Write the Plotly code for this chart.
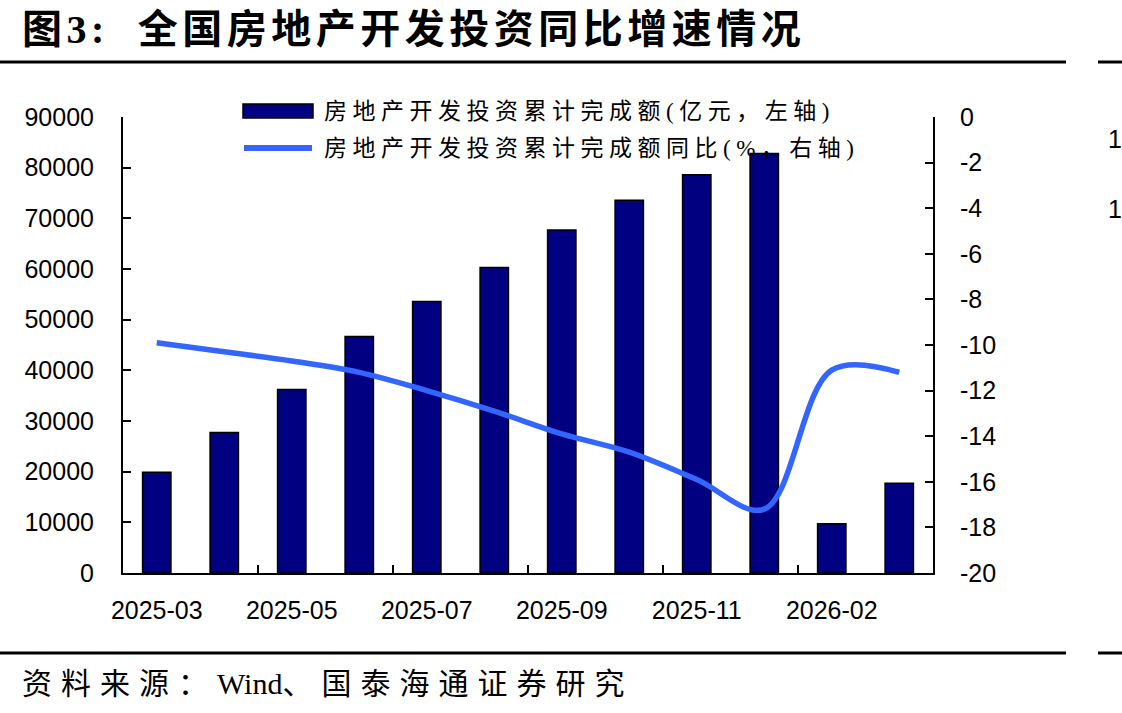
import plotly.graph_objects as go

categories = ["2025-03", "2025-04", "2025-05", "2025-06", "2025-07", "2025-08",
              "2025-09", "2025-10", "2025-11", "2025-12", "2026-02", "2026-03"]
invest = [19904, 27730, 36234, 46658, 53580, 60309, 67706, 73563, 78591, 82788, 9700, 17700]
yoy = [-9.9, -10.3, -10.7, -11.2, -12.0, -12.9, -13.9, -14.7, -15.9, -17.2, -11.1, -11.2]

x_tick_labels = categories[::2]
left_tickvals = list(range(0, 90001, 10000))
right_tickvals = list(range(-20, 1, 2))
right_ticktext = ["-20", "-18", "-16", "-14", "-12", "-10", "-8", "-6", "-4", "-2", "0"]
boundary_ticks = [1.5, 3.5, 5.5, 7.5, 9.5]

name_bar = "房地产开发投资累计完成额(亿元，左轴)"
name_line = "房地产开发投资累计完成额同比(%，右轴)"
title_text = "图3:  全国房地产开发投资同比增速情况"
source_parts = ["资料来源：", "Wind", "、国泰海通证券研究"]

BAR_COLOR = "#000080"
LINE_COLOR = "#3366FF"
TICK_FONT = dict(family="Liberation Sans, Arial, sans-serif", size=25, color="black")
SERIF_CJK = "Liberation Serif, Noto Sans CJK SC, serif"

# plot area in pixels: x 123..933, y 117..573
L, R, T, B = 123, 933, 117, 573
W, H = 1122, 713
def px(x):
    return (x - L) / (R - L)
def py(y):
    return (B - y) / (B - T)

fig = go.Figure()
fig.add_trace(go.Bar(
    x=categories, y=invest, name=name_bar,
    marker=dict(color=BAR_COLOR, line=dict(color="black", width=1.5)),
    xaxis="x", yaxis="y", showlegend=False, hoverinfo="skip"))
fig.add_trace(go.Scatter(
    x=categories, y=yoy, name=name_line, mode="lines",
    line=dict(color=LINE_COLOR, width=5.5, shape="spline", smoothing=1.0),
    xaxis="x", yaxis="y2", showlegend=False, hoverinfo="skip"))
# helper trace so the boundary-tick axis is rendered
fig.add_trace(go.Scatter(x=[-0.5, 11.5], y=[None, None], mode="lines",
                         xaxis="x2", yaxis="y", showlegend=False, hoverinfo="skip"))

fig.update_layout(
    width=W, height=H,
    margin=dict(l=L, r=W - R, t=T, b=H - B, pad=0),
    paper_bgcolor="white", plot_bgcolor="white",
    bargap=0.58,
    xaxis=dict(type="category", categoryorder="array", categoryarray=categories,
               range=[-0.5, 11.5], tickmode="array", tickvals=x_tick_labels,
               ticktext=x_tick_labels, ticks="", showline=True, linecolor="black",
               linewidth=2, showgrid=False, zeroline=False, tickfont=TICK_FONT,
               ticklabelstandoff=14),
    xaxis2=dict(overlaying="x", anchor="y", range=[-0.5, 11.5], tickmode="array",
                tickvals=boundary_ticks, ticks="inside", ticklen=8, tickwidth=2,
                tickcolor="black", showticklabels=False, showline=False,
                showgrid=False, zeroline=False, side="bottom"),
    yaxis=dict(range=[0, 90000], tickmode="array", tickvals=left_tickvals,
               tickformat="d", ticks="inside", ticklen=8, tickwidth=2, tickcolor="black",
               showline=True, linecolor="black", linewidth=2, showgrid=False,
               zeroline=False, tickfont=TICK_FONT, ticklabelstandoff=22),
    yaxis2=dict(range=[-20, 0], overlaying="y", side="right", anchor="x",
                tickmode="array", tickvals=right_tickvals, ticktext=right_ticktext,
                ticks="inside", ticklen=8, tickwidth=2, tickcolor="black",
                showline=True, linecolor="black", linewidth=2, showgrid=False,
                zeroline=False, tickfont=TICK_FONT, ticklabelstandoff=20),
)

shapes = [
    # legend samples
    dict(type="rect", xref="paper", yref="paper", x0=px(243), x1=px(313),
         y0=py(118), y1=py(104), fillcolor=BAR_COLOR, line=dict(color="black", width=1.5)),
    dict(type="line", xref="paper", yref="paper", x0=px(244), x1=px(312),
         y0=py(148), y1=py(148), line=dict(color=LINE_COLOR, width=6)),
    # rules under title and above source
    dict(type="line", xref="paper", yref="paper", x0=px(0), x1=px(1066),
         y0=py(62), y1=py(62), line=dict(color="black", width=3)),
    dict(type="line", xref="paper", yref="paper", x0=px(1098), x1=px(1122),
         y0=py(62), y1=py(62), line=dict(color="black", width=3)),
    dict(type="line", xref="paper", yref="paper", x0=px(0), x1=px(1066),
         y0=py(653), y1=py(653), line=dict(color="black", width=3)),
    dict(type="line", xref="paper", yref="paper", x0=px(1098), x1=px(1122),
         y0=py(653), y1=py(653), line=dict(color="black", width=3)),
]

def spaced(t, s):
    return f'<span style="letter-spacing:{s}px">{t}</span>'

source_html = (spaced(source_parts[0], 9) + source_parts[1] + spaced(source_parts[2], 9))

annotations = [
    dict(text=spaced(name_bar, 5.5), x=px(322), y=py(111), xref="paper", yref="paper",
         xanchor="left", yanchor="middle", showarrow=False,
         font=dict(family=SERIF_CJK, size=23, color="black")),
    dict(text=spaced(name_line, 5.5), x=px(322), y=py(148), xref="paper", yref="paper",
         xanchor="left", yanchor="middle", showarrow=False,
         font=dict(family=SERIF_CJK, size=23, color="black")),
    dict(text="<b>" + spaced(title_text, 4.5) + "</b>", x=px(20), y=py(30), xref="paper", yref="paper",
         xanchor="left", yanchor="middle", showarrow=False,
         font=dict(family=SERIF_CJK, size=40, color="black")),
    dict(text=source_html, x=px(20), y=py(683), xref="paper", yref="paper",
         xanchor="left", yanchor="middle", showarrow=False,
         font=dict(family=SERIF_CJK, size=30, color="black")),
    dict(text="1", x=px(1106), y=py(139), xref="paper", yref="paper",
         xanchor="left", yanchor="middle", showarrow=False, font=TICK_FONT),
    dict(text="1", x=px(1106), y=py(209), xref="paper", yref="paper",
         xanchor="left", yanchor="middle", showarrow=False, font=TICK_FONT),
]

fig.update_layout(shapes=shapes, annotations=annotations)
fig.write_html("out.html")
